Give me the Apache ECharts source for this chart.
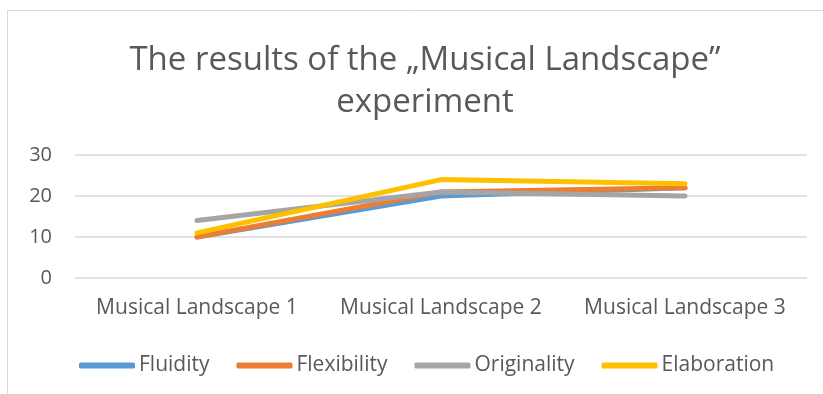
<!DOCTYPE html>
<html>
<head>
<meta charset="utf-8">
<script src="https://cdn.jsdelivr.net/npm/echarts@6/dist/echarts.min.js"></script>
<style>
  html, body { margin: 0; padding: 0; background: #fff; }
  #chart { width: 823px; height: 394px; }
</style>
</head>
<body>
<div id="chart"></div>
<script>
const categories = ['Musical Landscape 1', 'Musical Landscape 2', 'Musical Landscape 3'];
const fluidity = [10, 20, 22];
const flexibility = [10, 21, 22];
const originality = [14, 21, 20];
const elaboration = [11, 24, 23];
const yTicks = [0, 10, 20, 30];

const textColor = '#595959';
const font = '"Open Sans", "Noto Sans", sans-serif';

const chart = echarts.init(document.getElementById('chart'));

const makeLine = (name, data, color) => ({
  name,
  type: 'line',
  data,
  symbol: 'none',
  color,
  lineStyle: { width: 5, color, cap: 'round', join: 'round' }
});

chart.setOption({
  animation: false,
  textStyle: { fontFamily: font },
  title: {
    text: 'The results of the „Musical Landscape”\nexperiment',
    left: 420,
    textAlign: 'center',
    top: 35,
    textStyle: {
      color: textColor,
      fontSize: 33,
      fontWeight: 'normal',
      fontFamily: font,
      lineHeight: 42
    }
  },
  graphic: [{
    type: 'rect',
    shape: { x: 7.5, y: 10.5, width: 830, height: 400 },
    style: { fill: 'none', stroke: '#d9d9d9', lineWidth: 1 },
    silent: true
  }],
  legend: {
    top: 350,
    left: 74,
    itemWidth: 56,
    itemHeight: 6,
    itemGap: 27,
    icon: 'roundRect',
    textStyle: { color: textColor, fontSize: 21, fontFamily: font, padding: [0, 0, 0, -1] },
    data: ['Fluidity', 'Flexibility', 'Originality', 'Elaboration']
  },
  grid: { left: 75, right: 16, top: 155, bottom: 116 },
  xAxis: {
    type: 'category',
    data: categories,
    boundaryGap: true,
    axisLine: { show: false },
    axisTick: { show: false },
    axisLabel: { color: textColor, fontSize: 21, margin: 20, interval: 0, fontFamily: font }
  },
  yAxis: {
    type: 'value',
    min: yTicks[0],
    max: yTicks[yTicks.length - 1],
    interval: 10,
    axisLine: { show: false },
    axisTick: { show: false },
    axisLabel: { color: textColor, fontSize: 20, margin: 23, fontFamily: font },
    splitLine: { lineStyle: { color: '#d9d9d9', width: 1.5 } }
  },
  series: [
    makeLine('Fluidity', fluidity, '#5B9BD5'),
    makeLine('Flexibility', flexibility, '#ED7D31'),
    makeLine('Originality', originality, '#A5A5A5'),
    makeLine('Elaboration', elaboration, '#FFC000')
  ]
});
</script>
</body>
</html>
